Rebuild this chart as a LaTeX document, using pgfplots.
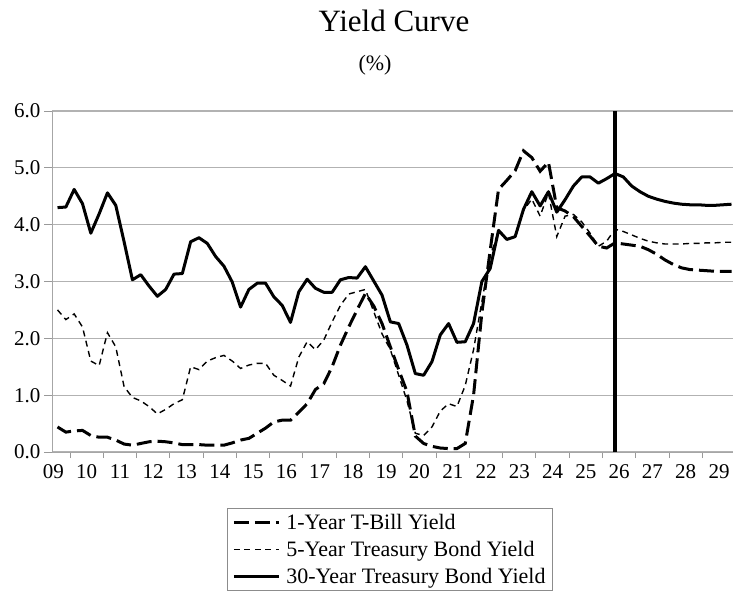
\documentclass[border=0pt]{standalone}
\usepackage{fontspec}
\setmainfont{Liberation Serif}
\usepackage{pgfplots}
\usepackage{pgfplotstable}
\pgfplotsset{compat=1.18}

\pgfplotstableread{
t one five thirty
2009.625 0.44 2.50 4.30
2009.875 0.35 2.33 4.31
2010.125 0.37 2.43 4.62
2010.375 0.38 2.20 4.37
2010.625 0.29 1.60 3.85
2010.875 0.26 1.52 4.19
2011.125 0.26 2.10 4.56
2011.375 0.21 1.85 4.34
2011.625 0.14 1.15 3.70
2011.875 0.12 0.96 3.03
2012.125 0.15 0.90 3.12
2012.375 0.18 0.80 2.92
2012.625 0.19 0.67 2.74
2012.875 0.18 0.75 2.86
2013.125 0.16 0.85 3.13
2013.375 0.13 0.92 3.14
2013.625 0.13 1.50 3.70
2013.875 0.13 1.45 3.77
2014.125 0.12 1.60 3.67
2014.375 0.12 1.66 3.44
2014.625 0.12 1.70 3.27
2014.875 0.16 1.60 2.99
2015.125 0.21 1.47 2.55
2015.375 0.24 1.53 2.86
2015.625 0.33 1.56 2.97
2015.875 0.42 1.56 2.97
2016.125 0.53 1.35 2.73
2016.375 0.56 1.26 2.58
2016.625 0.56 1.16 2.28
2016.875 0.70 1.67 2.82
2017.125 0.85 1.94 3.04
2017.375 1.10 1.80 2.88
2017.625 1.20 1.97 2.81
2017.875 1.50 2.29 2.81
2018.125 1.88 2.58 3.03
2018.375 2.20 2.78 3.07
2018.625 2.50 2.82 3.06
2018.875 2.79 2.86 3.26
2019.125 2.57 2.47 3.01
2019.375 2.26 2.08 2.76
2019.625 1.85 1.80 2.29
2019.875 1.45 1.35 2.26
2020.125 1.06 0.90 1.88
2020.375 0.28 0.33 1.38
2020.625 0.15 0.29 1.35
2020.875 0.10 0.44 1.59
2021.125 0.07 0.72 2.06
2021.375 0.06 0.85 2.26
2021.625 0.06 0.80 1.93
2021.875 0.15 1.17 1.94
2022.125 1.00 1.80 2.26
2022.375 2.45 2.65 3.00
2022.625 3.55 3.45 3.23
2022.875 4.62 3.88 3.90
2023.125 4.78 3.75 3.74
2023.375 4.95 3.78 3.79
2023.625 5.30 4.25 4.27
2023.875 5.18 4.45 4.58
2024.125 4.94 4.15 4.33
2024.375 5.10 4.56 4.58
2024.625 4.30 3.79 4.22
2024.875 4.24 4.15 4.44
2025.125 4.14 4.18 4.68
2025.375 3.97 4.05 4.84
2025.625 3.80 3.85 4.84
2025.875 3.62 3.62 4.73
2026.125 3.59 3.71 4.81
2026.375 3.68 3.92 4.90
2026.625 3.66 3.88 4.84
2026.875 3.64 3.82 4.68
2027.125 3.62 3.76 4.58
2027.375 3.56 3.71 4.50
2027.625 3.48 3.68 4.45
2027.875 3.38 3.66 4.41
2028.125 3.30 3.66 4.38
2028.375 3.24 3.66 4.36
2028.625 3.21 3.67 4.35
2028.875 3.20 3.67 4.35
2029.125 3.19 3.68 4.34
2029.375 3.18 3.68 4.34
2029.625 3.18 3.69 4.35
2029.875 3.18 3.69 4.36
}\yielddata

\begin{document}
\begin{tikzpicture}
\begin{axis}[
  at={(0pt,0pt)}, anchor=south west,
  scale only axis, width=681pt, height=341pt,
  xmin=2009.459, xmax=2029.92, ymin=0, ymax=6,
  axis x line*=bottom, axis y line*=left,
  axis line style={draw=black!35, line width=1pt, -},
  tick align=outside,
  major tick length=8pt, minor tick length=6pt,
  tick style={draw=black!40, line width=1pt},
  ytick={0,1,2,3,4,5,6},
  yticklabel style={/pgf/number format/.cd, fixed, fixed zerofill, precision=1},
  /pgf/number format/assume math mode=true,
  ymajorgrids, grid style={draw=black!30, line width=1.2pt},
  xtick={2009.5,2010.5,2011.5,2012.5,2013.5,2014.5,2015.5,2016.5,2017.5,2018.5,2019.5,2020.5,2021.5,2022.5,2023.5,2024.5,2025.5,2026.5,2027.5,2028.5,2029.5},
  xticklabels={09,10,11,12,13,14,15,16,17,18,19,20,21,22,23,24,25,26,27,28,29},
  minor xtick={2010,2011,2012,2013,2014,2015,2016,2017,2018,2019,2020,2021,2022,2023,2024,2025,2026,2027,2028,2029},
  major x tick style={draw=none},
  ticklabel style={font=\fontsize{21}{25}\selectfont},
  xticklabel style={yshift=-1pt},
  legend style={at={(0.257,-0.164)}, anchor=north west, draw=black!45, line width=0.8pt,
    font=\fontsize{22}{26}\selectfont, inner xsep=5pt, inner ysep=4pt, row sep=6pt,
    column sep=4pt, cells={anchor=west}},
  legend image code/.code={\draw[#1] (0pt,0pt) -- (45pt,0pt);},
]
\addplot[black, line width=3pt, dash pattern=on 15pt off 6pt] table[x=t, y=one] {\yielddata};
\addlegendentry{1-Year T-Bill Yield}
\addplot[black, line width=1.4pt, dash pattern=on 6pt off 4.5pt] table[x=t, y=five] {\yielddata};
\addlegendentry{5-Year Treasury Bond Yield}
\addplot[black, line width=3pt, line join=round] table[x=t, y=thirty] {\yielddata};
\addlegendentry{30-Year Treasury Bond Yield}
\addplot[black, line width=3.8pt, forget plot] coordinates {(2026.375,0) (2026.375,6)};
\end{axis}
\node[anchor=base, font=\fontsize{31}{36}\selectfont] at (342pt,420.5pt) {Yield Curve};
\node[anchor=base, font=\fontsize{22}{26}\selectfont] at (323pt,381pt) {(\%)};
\pgfresetboundingbox
\path[use as bounding box] (-52pt,-148pt) rectangle (682pt,452pt);
\end{tikzpicture}
\end{document}
